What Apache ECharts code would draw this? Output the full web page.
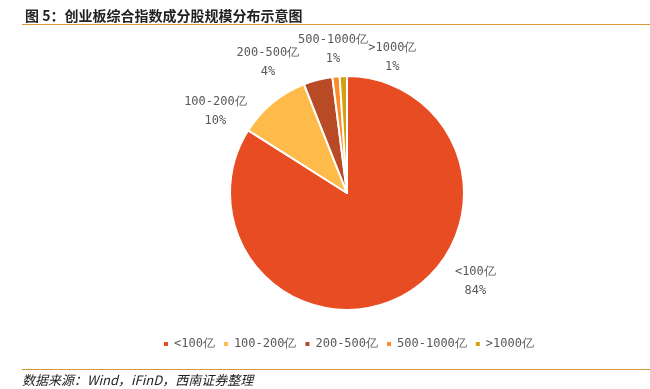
<!DOCTYPE html>
<html><head><meta charset="utf-8">
<script src="https://cdn.jsdelivr.net/npm/echarts@6/dist/echarts.min.js"></script>
<style>html,body{margin:0;padding:0;background:#fff}#c{width:650px;height:389px}</style>
</head><body><div id="c"></div>
<script>
const categories = ['<100亿', '100-200亿', '200-500亿', '500-1000亿', '>1000亿'];
const shares = [84, 10, 4, 1, 1];
const colors = ['#E84C22', '#FFBB4A', '#B84A26', '#FF8A2A', '#D4A010'];
const titleText = '图 5：创业板综合指数成分股规模分布示意图';
const sourceText = '数据来源：Wind，iFinD，西南证券整理';

// layout (not data): pie geometry and label nudges relative to each slice's rim point
const PIE_CENTER = [347, 193];
const PIE_R = 117;
const labelNudge = [[72, -14], [-57, 9], [-50, -17], [-3, -27], [49, -19]];

const total = shares.reduce((a, b) => a + b, 0);
const midAngles = [];
let acc = 0;
shares.forEach(v => { midAngles.push((acc + v / 2) / total * 2 * Math.PI); acc += v; });

const chart = echarts.init(document.getElementById('c'));
chart.setOption({
  animation: false,
  color: colors,
  title: {
    text: titleText, left: 20, top: 4,
    textStyle: {fontFamily: 'Noto Sans CJK SC', fontSize: 14, fontWeight: 'bold', color: '#222'}
  },
  legend: {
    bottom: 34, left: 157, itemWidth: 6, itemHeight: 6, itemGap: 7, icon: 'rect',
    textStyle: {fontFamily: 'DejaVu Sans Mono', fontSize: 12, color: '#595959'},
    data: categories
  },
  graphic: [
    {type: 'line', shape: {x1: 22, y1: 24.5, x2: 650, y2: 24.5}, style: {stroke: '#D9953A', lineWidth: 1}},
    {type: 'line', shape: {x1: 22, y1: 369.5, x2: 650, y2: 369.5}, style: {stroke: '#D9953A', lineWidth: 1}},
    {type: 'text', left: 22, top: 374, style: {text: sourceText, font: 'italic 13px "Noto Sans CJK SC"', fill: '#222'}}
  ],
  series: [{
    type: 'pie',
    center: PIE_CENTER, radius: PIE_R,
    startAngle: 90, clockwise: true,
    percentPrecision: 0,
    avoidLabelOverlap: false,
    itemStyle: {borderColor: '#fff', borderWidth: 2},
    label: {
      show: true, position: 'outside', formatter: '{b}\n{d}%',
      fontFamily: 'DejaVu Sans Mono', fontSize: 12, color: '#595959', lineHeight: 19, align: 'center'
    },
    labelLine: {show: false, length: 0, length2: 0},
    labelLayout: function (p) {
      const i = p.dataIndex;
      const a = midAngles[i];
      const rx = PIE_CENTER[0] + PIE_R * Math.sin(a);
      const ry = PIE_CENTER[1] - PIE_R * Math.cos(a);
      return {
        x: rx + labelNudge[i][0], y: ry + labelNudge[i][1],
        align: 'center', verticalAlign: 'middle', hideOverlap: false
      };
    },
    data: categories.map((n, i) => ({name: n, value: shares[i]}))
  }]
});
</script></body></html>
